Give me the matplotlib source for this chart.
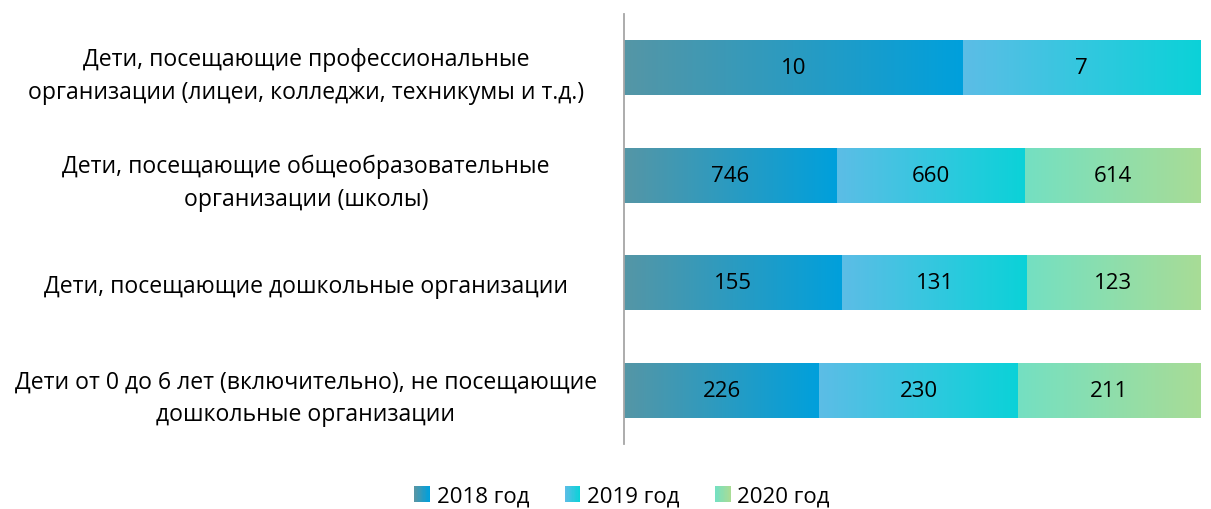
import numpy as np
import matplotlib
matplotlib.use("Agg")
import matplotlib.pyplot as plt
from matplotlib.colors import LinearSegmentedColormap
from matplotlib.patches import Rectangle
from matplotlib.legend_handler import HandlerBase

plt.rcParams['font.family'] = ['Open Sans', 'DejaVu Sans']

# Данные
categories = [
    'Дети, посещающие профессиональные\nорганизации (лицеи, колледжи, техникумы и т.д.)',
    'Дети, посещающие общеобразовательные\nорганизации (школы)',
    'Дети, посещающие дошкольные организации',
    'Дети от 0 до 6 лет (включительно), не посещающие\nдошкольные организации',
]
years = ['2018 год', '2019 год', '2020 год']
v2018 = [10, 746, 155, 226]
v2019 = [7, 660, 131, 230]
v2020 = [0, 614, 123, 211]

# градиенты (слева -> направо)
grads = [('#5596a6', '#00a0dc'), ('#5cbde6', '#0bd2d8'), ('#74e0c2', '#a8dc96')]

vals = np.array([v2018, v2019, v2020], dtype=float)
shares = vals / vals.sum(axis=0)

FS = 16

fig = plt.figure(figsize=(12.11, 5.10), dpi=100)
ax = fig.add_axes([624/1211, 1-445/510, 576/1211, 430/510])

ypos = np.arange(len(categories))
left = np.zeros(len(categories))
grad_img = np.linspace(0, 1, 256).reshape(1, -1)
for k in range(3):
    cmap = LinearSegmentedColormap.from_list('g%d' % k, grads[k])
    bars = ax.barh(ypos, shares[k], left=left, height=0.51, color='none', edgecolor='none')
    for i, b in enumerate(bars):
        if vals[k, i] <= 0:
            continue
        x0, y0 = b.get_x(), b.get_y()
        w, h = b.get_width(), b.get_height()
        im = ax.imshow(grad_img, cmap=cmap, aspect='auto',
                       extent=[x0, x0 + w, y0 + h, y0], zorder=2)
        im.set_clip_path(b)
        ax.text(x0 + w / 2, ypos[i], '%d' % vals[k, i], ha='center', va='center',
                fontsize=FS, color='black', zorder=3)
    left += shares[k]

ax.set_xlim(0, 1)
ax.set_ylim(3.5, -0.5)
ax.set_yticks(ypos)
ax.set_yticklabels(categories, fontsize=16.6, ha='center', linespacing=1.5)
ax.tick_params(axis='y', length=0, pad=229)
ax.set_xticks([])
for s in ['top', 'right', 'bottom']:
    ax.spines[s].set_visible(False)
ax.spines['left'].set_color('#a6a6a6')
ax.spines['left'].set_linewidth(1.3)


class GradHandler(HandlerBase):
    def __init__(self, c0, c1):
        super().__init__()
        self.c0, self.c1 = c0, c1

    def create_artists(self, legend, orig_handle, xdescent, ydescent, width, height, fontsize, trans):
        cmap = LinearSegmentedColormap.from_list('h', [self.c0, self.c1])
        n = 12
        side = height * 1.0
        x0 = -xdescent + (width - side) / 2
        y0 = -ydescent + (height - side) / 2
        arts = []
        for j in range(n):
            r = Rectangle((x0 + side * j / n, y0), side / n * 1.05, side,
                          facecolor=cmap(j / (n - 1)), edgecolor='none', transform=trans)
            arts.append(r)
        return arts


handles = [Rectangle((0, 0), 1, 1) for _ in years]
fig.legend(handles, years, loc='center', bbox_to_anchor=(622/1211, 1-497/510),
           ncol=3, frameon=False, fontsize=FS, handlelength=0.7, handleheight=0.7,
           handletextpad=0.3, columnspacing=1.6,
           handler_map={h: GradHandler(*grads[k]) for k, h in enumerate(handles)})

fig.savefig('out.png', dpi=100)
